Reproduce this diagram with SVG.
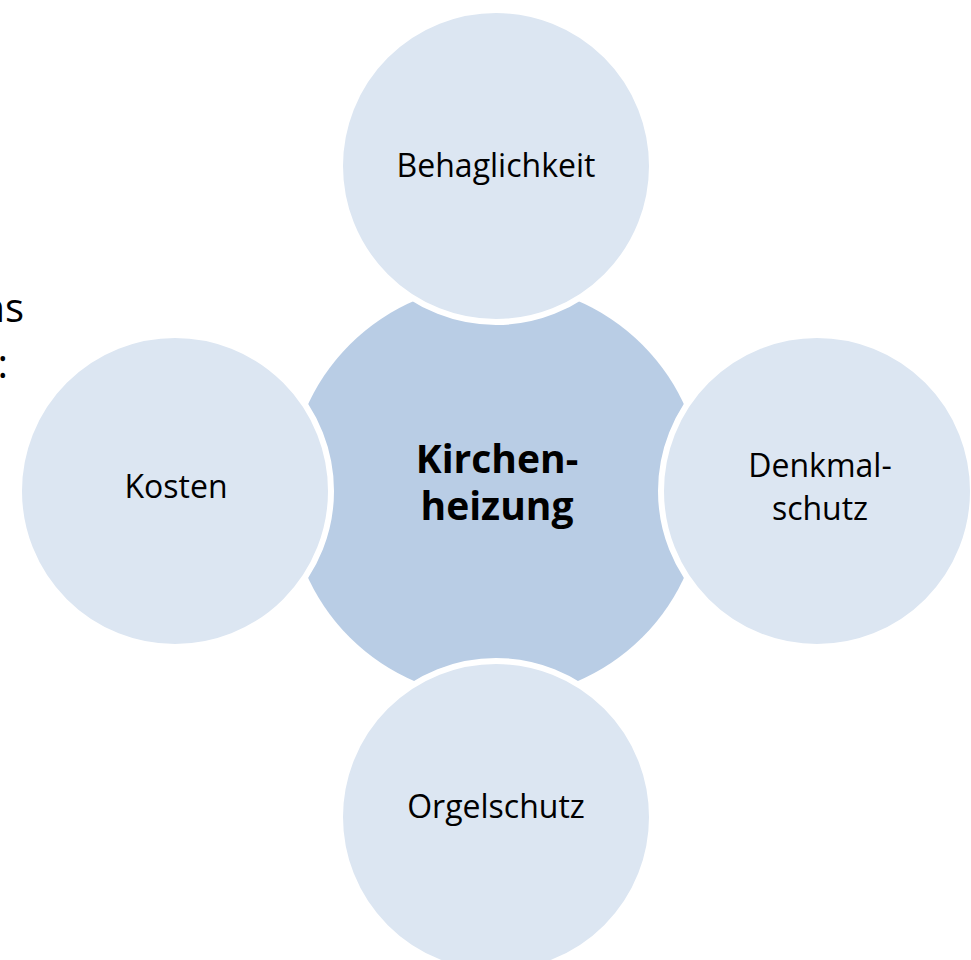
<svg xmlns="http://www.w3.org/2000/svg" width="971" height="960" viewBox="0 0 971 960">
<style>
.bg{fill:#ffffff}
.center{fill:#B9CDE5}
.outer{fill:#DCE6F2;stroke:#ffffff;stroke-width:6}
.lbl{font-family:"Open Sans","Noto Sans","Liberation Sans",sans-serif;font-size:32px;fill:#000000;text-anchor:middle}
.bold{font-weight:bold;font-size:39px}
.side{font-family:"Open Sans","Noto Sans","Liberation Sans",sans-serif;font-size:40px;fill:#000000;text-anchor:end}
</style>
<rect class="bg" x="0" y="0" width="971" height="960"/>
<text class="side" x="24" y="322">ns</text>
<text class="side" x="8" y="378">:</text>
<g id="connectors"></g>
<g id="node-center">
<circle class="center" cx="496" cy="491" r="207"/>
</g>
<g id="node-top">
<circle class="outer" cx="496" cy="166" r="156"/>
<text class="lbl" x="496" y="177">Behaglichkeit</text>
</g>
<g id="node-left">
<circle class="outer" cx="175" cy="491" r="156"/>
<text class="lbl" x="176" y="498">Kosten</text>
</g>
<g id="node-right">
<circle class="outer" cx="817" cy="491" r="156"/>
<text class="lbl" x="820" y="477">Denkmal-</text>
<text class="lbl" x="820" y="520">schutz</text>
</g>
<g id="node-bottom">
<circle class="outer" cx="496" cy="817" r="156"/>
<text class="lbl" x="496" y="818">Orgelschutz</text>
</g>
<g id="node-center-label">
<text class="lbl bold" x="497" y="473">Kirchen-</text>
<text class="lbl bold" x="497" y="520">heizung</text>
</g>
</svg>
